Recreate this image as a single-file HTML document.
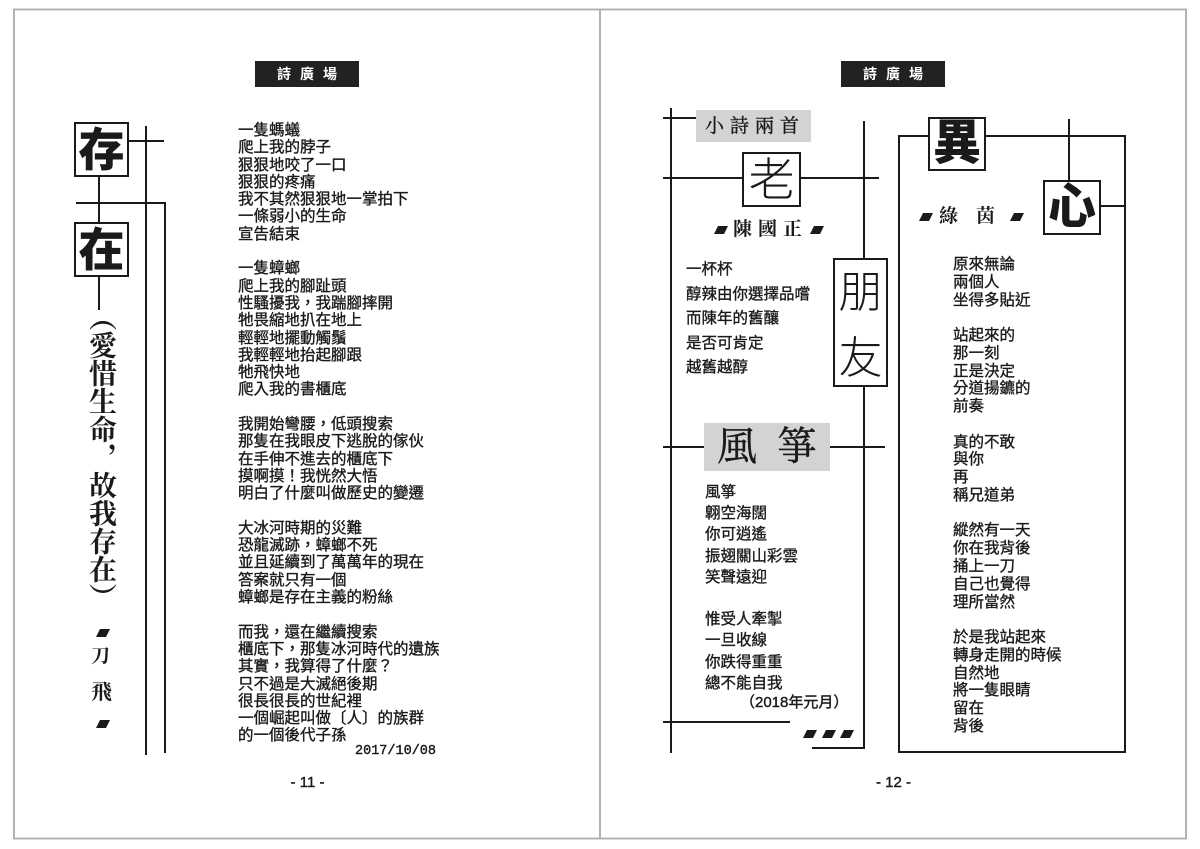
<!DOCTYPE html>
<html>
<head>
<meta charset="utf-8">
<style>
html,body{margin:0;padding:0;background:#fff;}
body{width:1200px;height:849px;position:relative;overflow:hidden;color:#1a1a1a;}
.a{position:absolute;white-space:pre;}
.sans{font-family:"Liberation Sans","Noto Sans CJK TC",sans-serif;}
.serif{font-family:"Liberation Serif","Noto Serif CJK SC",serif;}
.poem{font-size:15.5px;-webkit-text-stroke:0.35px #1a1a1a;}
.box{position:absolute;display:flex;align-items:center;justify-content:center;line-height:1;}
.hdr{color:#fff;font-weight:bold;font-size:14px;letter-spacing:9px;padding-left:9px;box-sizing:border-box;}
.st{-webkit-text-stroke:0.4px #1a1a1a;}
</style>
</head>
<body>
<svg width="1200" height="849" style="position:absolute;left:0;top:0">
  <rect x="14" y="9.5" width="1172" height="829" fill="none" stroke="#b3b3b3" stroke-width="2"/>
  <rect x="599" y="10" width="2" height="828" fill="#b3b3b3"/>
  <rect x="255" y="61" width="104" height="26" fill="#222"/>
  <rect x="841" y="61" width="104" height="26" fill="#222"/>

  <rect x="145" y="126" width="2" height="629" fill="#1a1a1a"/>
  <rect x="129" y="140" width="35" height="2" fill="#1a1a1a"/>
  <rect x="98" y="177" width="2" height="45" fill="#1a1a1a"/>
  <rect x="76" y="202" width="90" height="2" fill="#1a1a1a"/>
  <rect x="164" y="202" width="2" height="551" fill="#1a1a1a"/>
  <rect x="98" y="277" width="2" height="33" fill="#1a1a1a"/>
  <rect x="75" y="123" width="53" height="53" fill="#fff" stroke="#1a1a1a" stroke-width="2"/>
  <rect x="75" y="223" width="53" height="53" fill="#fff" stroke="#1a1a1a" stroke-width="2"/>
  <polygon points="100,629 110,629 106,637 96,637" fill="#1a1a1a"/>
  <polygon points="100,720 110,720 106,728 96,728" fill="#1a1a1a"/>

  <rect x="670" y="108" width="2" height="645" fill="#1a1a1a"/>
  <rect x="663" y="117" width="34" height="2" fill="#1a1a1a"/>
  <rect x="663" y="177" width="216" height="2" fill="#1a1a1a"/>
  <rect x="863" y="121" width="2" height="628" fill="#1a1a1a"/>
  <rect x="812" y="747" width="53" height="2" fill="#1a1a1a"/>
  <rect x="663" y="446" width="222" height="2" fill="#1a1a1a"/>
  <rect x="663" y="721" width="127" height="2" fill="#1a1a1a"/>
  <rect x="696" y="110" width="115" height="32" fill="#d3d3d3"/>
  <rect x="704" y="423" width="126" height="48" fill="#d3d3d3"/>
  <rect x="743" y="153" width="57" height="53" fill="#fff" stroke="#1a1a1a" stroke-width="2"/>
  <rect x="834" y="259" width="53" height="127" fill="#fff" stroke="#1a1a1a" stroke-width="2"/>
  <rect x="899" y="136" width="226" height="616" fill="none" stroke="#1a1a1a" stroke-width="2"/>
  <rect x="1068" y="119" width="2" height="61" fill="#1a1a1a"/>
  <rect x="929" y="118" width="56" height="52" fill="#fff" stroke="#1a1a1a" stroke-width="2"/>
  <rect x="1044" y="181" width="56" height="53" fill="#fff" stroke="#1a1a1a" stroke-width="2"/>
  <rect x="1100" y="205" width="25" height="2" fill="#1a1a1a"/>
  <polygon points="718,226 728,226 724,234 714,234" fill="#1a1a1a"/>
  <polygon points="814,226 824,226 820,234 810,234" fill="#1a1a1a"/>
  <polygon points="923,213 933,213 929,221 919,221" fill="#1a1a1a"/>
  <polygon points="1014,213 1024,213 1020,221 1010,221" fill="#1a1a1a"/>
  <polygon points="807,730 817,730 813,738 803,738" fill="#1a1a1a"/>
  <polygon points="826,730 836,730 832,738 822,738" fill="#1a1a1a"/>
  <polygon points="844,730 854,730 850,738 840,738" fill="#1a1a1a"/>
</svg>

<div class="box sans hdr" style="left:255px;top:61px;width:104px;height:26px;">詩廣場</div>
<div class="box sans hdr" style="left:841px;top:61px;width:104px;height:26px;">詩廣場</div>

<div class="box sans" style="left:74px;top:122px;width:55px;height:55px;font-size:46px;font-weight:900;">存</div>
<div class="box sans" style="left:74px;top:222px;width:55px;height:55px;font-size:46px;font-weight:900;">在</div>

<div class="a serif" style="left:86px;top:303px;writing-mode:vertical-rl;font-size:28px;line-height:28px;font-weight:bold;">（愛惜生命，故我存在）</div>
<div class="a serif" style="left:91px;top:647px;font-size:19px;line-height:20px;font-weight:bold;">刀</div>
<div class="a serif" style="left:91px;top:682px;font-size:21px;line-height:21px;font-weight:bold;">飛</div>

<div class="a sans poem" style="left:238px;top:122px;line-height:17.3px;">一隻螞蟻
爬上我的脖子
狠狠地咬了一口
狠狠的疼痛
我不其然狠狠地一掌拍下
一條弱小的生命
宣告結束

一隻蟑螂
爬上我的腳趾頭
性騷擾我，我踹腳摔開
牠畏縮地扒在地上
輕輕地擺動觸鬚
我輕輕地抬起腳跟
牠飛快地
爬入我的書櫃底

我開始彎腰，低頭搜索
那隻在我眼皮下逃脫的傢伙
在手伸不進去的櫃底下
摸啊摸！我恍然大悟
明白了什麼叫做歷史的變遷

大冰河時期的災難
恐龍滅跡，蟑螂不死
並且延續到了萬萬年的現在
答案就只有一個
蟑螂是存在主義的粉絲

而我，還在繼續搜索
櫃底下，那隻冰河時代的遺族
其實，我算得了什麼？
只不過是大滅絕後期
很長很長的世紀裡
一個崛起叫做〔人〕的族群
的一個後代子孫</div>
<div class="a st" style="left:355px;top:743px;font-family:'Liberation Mono',monospace;font-size:13.5px;line-height:18px;">2017/10/08</div>

<div class="a sans st" style="left:257.5px;width:100px;text-align:center;top:774px;font-size:15px;line-height:18px;">- 11 -</div>
<div class="a sans st" style="left:843.5px;width:100px;text-align:center;top:774px;font-size:15px;line-height:18px;">- 12 -</div>

<div class="a serif st" style="left:705px;top:117px;font-size:19px;line-height:20px;letter-spacing:6px;">小詩兩首</div>
<div class="box sans" style="left:742px;top:152px;width:59px;height:55px;font-size:46px;font-weight:300;">老</div>
<div class="a serif" style="left:733px;top:220px;font-size:19px;line-height:20px;letter-spacing:6px;font-weight:bold;">陳國正</div>
<div class="box sans" style="left:833px;top:270px;width:55px;height:46px;font-size:44px;font-weight:300;">朋</div>
<div class="box sans" style="left:833px;top:336px;width:55px;height:46px;font-size:44px;font-weight:300;">友</div>

<div class="a sans poem" style="left:686px;top:258px;line-height:24.5px;">一杯杯
醇辣由你選擇品嚐
而陳年的舊釀
是否可肯定
越舊越醇</div>

<div class="a serif st" style="left:717px;top:427px;font-size:40px;line-height:40px;letter-spacing:20px;">風箏</div>

<div class="a sans poem" style="left:705px;top:482px;line-height:21.2px;">風箏
翺空海闊
你可逍遙
振翅關山彩雲
笑聲遠迎

惟受人牽掣
一旦收線
你跌得重重
總不能自我</div>
<div class="a sans st" style="left:740px;top:693px;font-size:15px;line-height:20px;">（2018年元月）</div>

<div class="box sans" style="left:928px;top:117px;width:58px;height:54px;font-size:48px;font-weight:900;">異</div>
<div class="box sans" style="left:1043px;top:180px;width:58px;height:55px;font-size:48px;font-weight:900;">心</div>
<div class="a serif" style="left:939px;top:207px;font-size:19px;line-height:20px;letter-spacing:18px;font-weight:bold;">綠茵</div>

<div class="a sans poem" style="left:953px;top:256px;line-height:17.77px;">原來無論
兩個人
坐得多貼近

站起來的
那一刻
正是決定
分道揚鑣的
前奏

真的不敢
與你
再
稱兄道弟

縱然有一天
你在我背後
捅上一刀
自己也覺得
理所當然

於是我站起來
轉身走開的時候
自然地
將一隻眼睛
留在
背後</div>
</body>
</html>
